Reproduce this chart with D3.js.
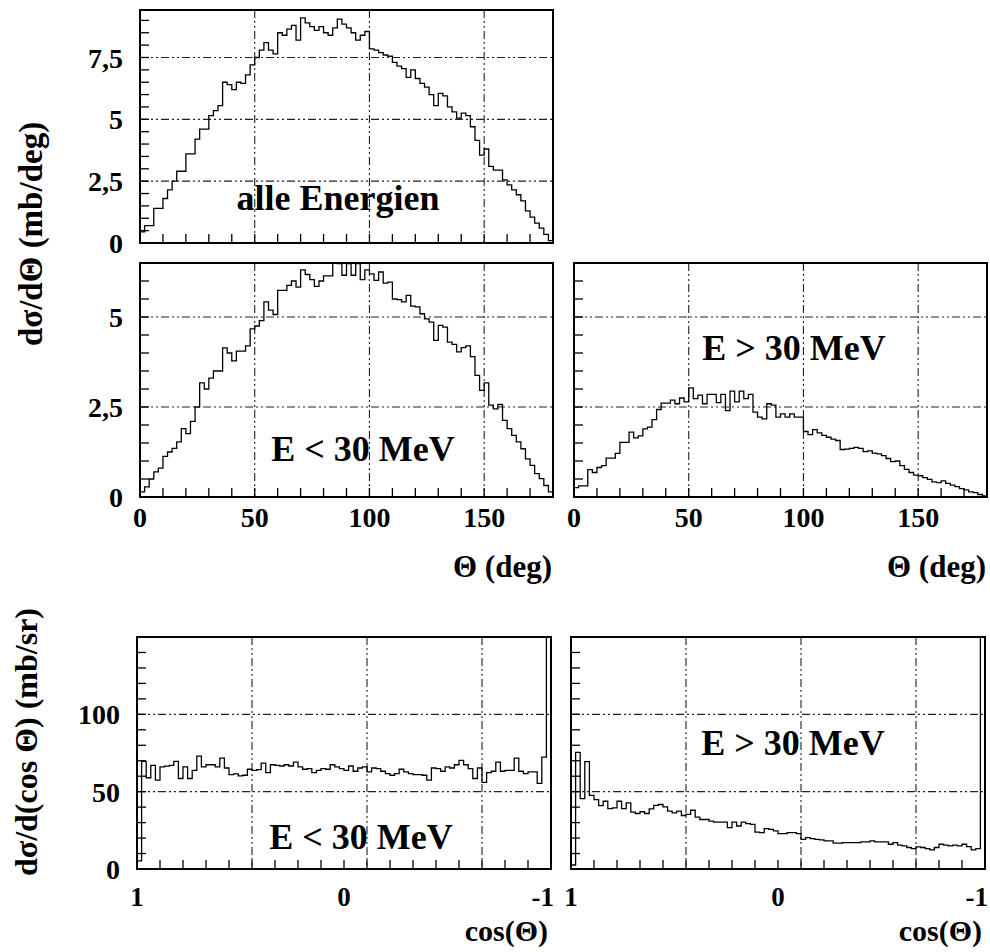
<!DOCTYPE html>
<html><head><meta charset="utf-8">
<script src="https://cdn.jsdelivr.net/npm/d3@7"></script>
<style>
body{margin:0;background:#fff;}
svg text{font-family:"Liberation Serif","Times New Roman",serif;font-weight:bold;fill:#000;}
</style></head><body>
<svg id="c" width="990" height="952"></svg>
<script>
// ---------- data ----------
const allEnergies = [
 0.45,0.7,0.7,1.4,1.4,1.8,2.15,2.5,2.9,2.9,
 3.6,3.6,4.2,4.6,4.6,5.15,5.35,5.55,6.5,6.4,
 6.2,6.5,6.45,6.8,7.2,7.5,7.8,8.1,7.8,7.65,
 8.5,8.4,8.65,8.8,8.2,9.1,8.9,8.75,8.6,8.75,
 8.5,8.4,8.7,9.05,8.85,8.7,8.5,8.2,8.4,8.55,
 7.85,7.8,7.7,7.6,7.55,7.3,7.15,7.05,6.7,7.0,
 6.65,6.45,6.3,6.0,5.55,6.05,5.95,5.5,5.3,5.05,
 5.25,5.15,4.7,4.15,3.55,3.8,3.1,2.95,2.95,2.55,
 2.35,2.15,1.95,1.7,1.3,1.05,0.8,0.6,0.35,0.1];
const thetaLowE = [
 0.14,0.28,0.5,0.7,0.8,1.13,1.25,1.35,1.53,1.9,
 1.76,2.1,2.5,3.17,3.0,3.3,3.5,3.5,4.14,4.0,
 3.78,4.05,4.05,4.2,4.67,4.75,4.9,5.42,5.19,5.07,
 5.74,5.74,5.88,6.0,5.83,6.31,6.18,6.04,5.85,6.0,
 6.14,6.14,6.53,6.48,6.16,6.48,6.16,6.48,6.04,6.31,
 6.2,6.02,6.25,5.94,5.97,5.5,5.48,5.42,5.6,5.3,
 5.28,5.09,4.95,4.86,4.35,4.77,4.72,4.3,4.24,4.03,
 4.15,4.2,3.9,3.38,2.96,3.17,2.55,2.45,2.57,2.13,
 1.9,1.71,1.53,1.34,1.06,0.88,0.65,0.51,0.32,0.14];
const thetaHighE = [
 0.26,0.31,0.31,0.76,0.68,0.82,0.87,1.08,1.08,1.21,
 1.52,1.52,1.8,1.64,1.7,1.89,1.94,2.15,2.43,2.61,
 2.61,2.69,2.59,2.75,2.64,3.03,2.73,2.83,2.59,2.85,
 2.85,2.62,2.85,2.4,2.94,2.64,2.94,2.73,2.85,2.36,
 2.22,2.17,2.59,2.55,2.22,2.31,2.22,2.31,2.22,2.22,
 1.82,1.73,1.87,1.78,1.71,1.66,1.61,1.57,1.32,1.33,
 1.35,1.38,1.35,1.26,1.28,1.22,1.2,1.15,1.07,0.98,
 1.0,0.87,0.77,0.68,0.61,0.59,0.54,0.49,0.42,0.4,
 0.45,0.38,0.33,0.29,0.23,0.2,0.14,0.12,0.07,0.03];
const cosLowE = [
 5.3,69.6,59,67,57.4,66,66.5,67,69.6,58.5,
 66,58.5,63.8,73,66,67.4,67.4,66,71.7,65.3,
 61,61.5,60.2,60.6,64.5,63.8,64.2,68.5,62.3,67.4,
 67,66.6,67.4,66.6,69.1,66,64.5,64.9,62.3,63.8,
 64.9,64.5,67.4,66,64.9,63.8,66.6,63.2,65.3,66,
 62.8,65.3,64.9,63.2,61.7,60.6,61.7,64.5,62.8,61.7,
 61,61,60.6,57.4,65.3,64.9,63.2,66,65.3,67.4,
 70.2,67.4,64.9,58.5,65.3,56,62.3,63.2,69.1,63.2,
 63.8,63.8,71.7,63.2,61.7,62.8,62.8,55.3,72.3,200];
const cosHighE = [
 2.6,75.4,45.5,69.4,47.6,44.9,41,43.8,39.1,39.5,
 43.8,39.1,42.7,36.8,35.9,37,35.9,38.9,41.2,41.7,
 40.2,37.4,36.3,37.4,34.6,35.3,38,33.5,32,32,
 31,30.3,30.3,30.3,26.7,30.3,27.8,30.3,29.3,28.8,
 23.9,23.5,26.1,25.6,24.6,22.9,22.9,23.5,23.5,22.9,
 19.2,20.3,19.7,19.2,18.8,18.2,18.2,16.7,16.7,17.1,
 17.1,17.1,17.1,17.5,17.5,18.2,17.5,17.5,17.5,16,
 17.1,15.4,15,13.9,13.2,14.3,13.9,13.2,12.4,13.9,
 16,15.4,15,15.4,15,16,14.5,12.4,13.2,200];

const thetaTickValues = [0,50,100,150];
const thetaTickLabels = ["0","50","100","150"];
const cosTickValues = [1,0,-1];
const cosTickLabels = ["1","0","-1"];
const yTopTickValues = [0,2.5,5,7.5];
const yTopTickLabels = ["0","2,5","5","7,5"];
const yMidTickValues = [0,2.5,5];
const yMidTickLabels = ["0","2,5","5"];
const yCosTickValues = [0,50,100];
const yCosTickLabels = ["0","50","100"];
const panelLabels = ["alle Energien","E < 30 MeV","E > 30 MeV","E < 30 MeV","E > 30 MeV"];

// ---------- layout ----------
const svg = d3.select("#c");
const thetaMinor = d3.range(10,180,10);
const thetaGrid = [50,100,150];
const cosMinor = d3.range(1,18).map(k=>1-2*k/18);
const cosGrid = [5,10,15].map(k=>1-2*k/18);

const panels = [
 {data:allEnergies, x0:140,x1:553,y0:10,y1:243, xd:[0,180], yd:[0,9.42], kind:"theta",
  yMinor:d3.range(0.5,9.4,0.5), yGrid:[2.5,5,7.5], yTicks:yTopTickValues, yLabels:yTopTickLabels,
  xLabels:false, label:panelLabels[0], lx:338, ly:210},
 {data:thetaLowE, x0:140,x1:553,y0:263,y1:497, xd:[0,180], yd:[0,6.5], kind:"theta",
  yMinor:d3.range(0.5,6.5,0.5), yGrid:[2.5,5], yTicks:yMidTickValues, yLabels:yMidTickLabels,
  xLabels:true, label:panelLabels[1], lx:363, ly:461},
 {data:thetaHighE, x0:574,x1:987,y0:263,y1:497, xd:[0,180], yd:[0,6.5], kind:"theta",
  yMinor:d3.range(0.5,6.5,0.5), yGrid:[2.5,5], yTicks:null, yLabels:null,
  xLabels:true, label:panelLabels[2], lx:794, ly:360},
 {data:cosLowE, x0:137,x1:551,y0:637,y1:869, xd:[1,-1], yd:[0,150], kind:"cos",
  yMinor:d3.range(10,150,10), yGrid:[50,100], yTicks:yCosTickValues, yLabels:yCosTickLabels,
  xLabels:true, label:panelLabels[3], lx:361, ly:849},
 {data:cosHighE, x0:571,x1:985,y0:637,y1:869, xd:[1,-1], yd:[0,150], kind:"cos",
  yMinor:d3.range(10,150,10), yGrid:[50,100], yTicks:null, yLabels:null,
  xLabels:true, label:panelLabels[4], lx:793, ly:755}
];

panels.forEach((p,pi)=>{
  const x = d3.scaleLinear().domain(p.xd).range([p.x0,p.x1]);
  const y = d3.scaleLinear().domain(p.yd).range([p.y1,p.y0]);
  const g = svg.append("g");
  const cid = "clip"+pi;
  svg.append("clipPath").attr("id",cid).append("rect")
    .attr("x",p.x0).attr("y",p.y0).attr("width",p.x1-p.x0).attr("height",p.y1-p.y0);

  const xGrid = p.kind==="theta" ? thetaGrid : cosGrid;
  const xMinor = p.kind==="theta" ? thetaMinor : cosMinor;
  const dash = "8,3,2,3,2,3";
  // grid
  g.selectAll(null).data(xGrid).enter().append("line")
    .attr("x1",d=>x(d)).attr("x2",d=>x(d)).attr("y1",p.y0).attr("y2",p.y1)
    .attr("stroke","#222").attr("stroke-width",1.1).attr("stroke-dasharray",dash);
  g.selectAll(null).data(p.yGrid).enter().append("line")
    .attr("y1",d=>y(d)).attr("y2",d=>y(d)).attr("x1",p.x0).attr("x2",p.x1)
    .attr("stroke","#222").attr("stroke-width",1.1).attr("stroke-dasharray",dash);
  // ticks
  g.selectAll(null).data(xMinor).enter().append("line")
    .attr("x1",d=>x(d)).attr("x2",d=>x(d)).attr("y1",p.y1).attr("y2",p.y1-9)
    .attr("stroke","#000").attr("stroke-width",1.3);
  g.selectAll(null).data(p.yMinor).enter().append("line")
    .attr("y1",d=>y(d)).attr("y2",d=>y(d)).attr("x1",p.x0).attr("x2",p.x0+9)
    .attr("stroke","#000").attr("stroke-width",1.3);

  // histogram
  const n = p.data.length;
  const edges = d3.range(n+1).map(i=>p.xd[0]+(p.xd[1]-p.xd[0])*i/n);
  const pts = [[edges[0],0]];
  p.data.forEach((v,i)=>pts.push([edges[i],v]));
  pts.push([edges[n],p.data[n-1]]);
  pts.push([edges[n],0]);
  const line = d3.line().x(d=>x(d[0])).y(d=>y(d[1])).curve(d3.curveStepAfter);
  g.append("path").attr("d",line(pts)).attr("fill","none")
    .attr("stroke","#000").attr("stroke-width",1.3).attr("clip-path",`url(#${cid})`);

  // frame
  g.append("rect").attr("x",p.x0).attr("y",p.y0).attr("width",p.x1-p.x0).attr("height",p.y1-p.y0)
    .attr("fill","none").attr("stroke","#000").attr("stroke-width",2);

  // y tick labels
  if(p.yTicks){
    g.selectAll(null).data(p.yTicks).enter().append("text")
      .attr("x",p.x0-17).attr("y",d=>y(d)).attr("dy","0.36em")
      .attr("text-anchor","end").attr("font-size",28)
      .text((d,i)=>p.yLabels[i]);
  }
  // x tick labels
  if(p.xLabels){
    if(p.kind==="theta"){
      g.selectAll(null).data(thetaTickValues).enter().append("text")
        .attr("x",d=>x(d)).attr("y",p.y1+30).attr("text-anchor","middle").attr("font-size",28)
        .text((d,i)=>thetaTickLabels[i]);
      g.append("text").attr("x",p.x1-1).attr("y",577).attr("text-anchor","end")
        .attr("font-size",31).text("\u0398 (deg)");
    } else {
      g.selectAll(null).data(cosTickValues).enter().append("text")
        .attr("x",d=>d===-1?x(d)+3:x(d)).attr("y",p.y1+37)
        .attr("text-anchor",d=>d===-1?"end":"middle").attr("font-size",27)
        .text((d,i)=>cosTickLabels[i]);
      g.append("text").attr("x",p.x1-3).attr("y",941).attr("text-anchor","end")
        .attr("font-size",30).text("cos(\u0398)");
    }
  }
  // panel annotation
  g.append("text").attr("x",p.lx).attr("y",p.ly).attr("text-anchor","middle")
    .attr("font-size",36).text(p.label);
});

// y axis titles
svg.append("text").attr("transform","translate(42,234) rotate(-90)")
  .attr("text-anchor","middle").attr("font-size",33).text("d\u03c3/d\u0398 (mb/deg)");
svg.append("text").attr("transform","translate(37,742) rotate(-90)")
  .attr("text-anchor","middle").attr("font-size",32).text("d\u03c3/d(cos \u0398) (mb/sr)");
</script>
</body></html>
